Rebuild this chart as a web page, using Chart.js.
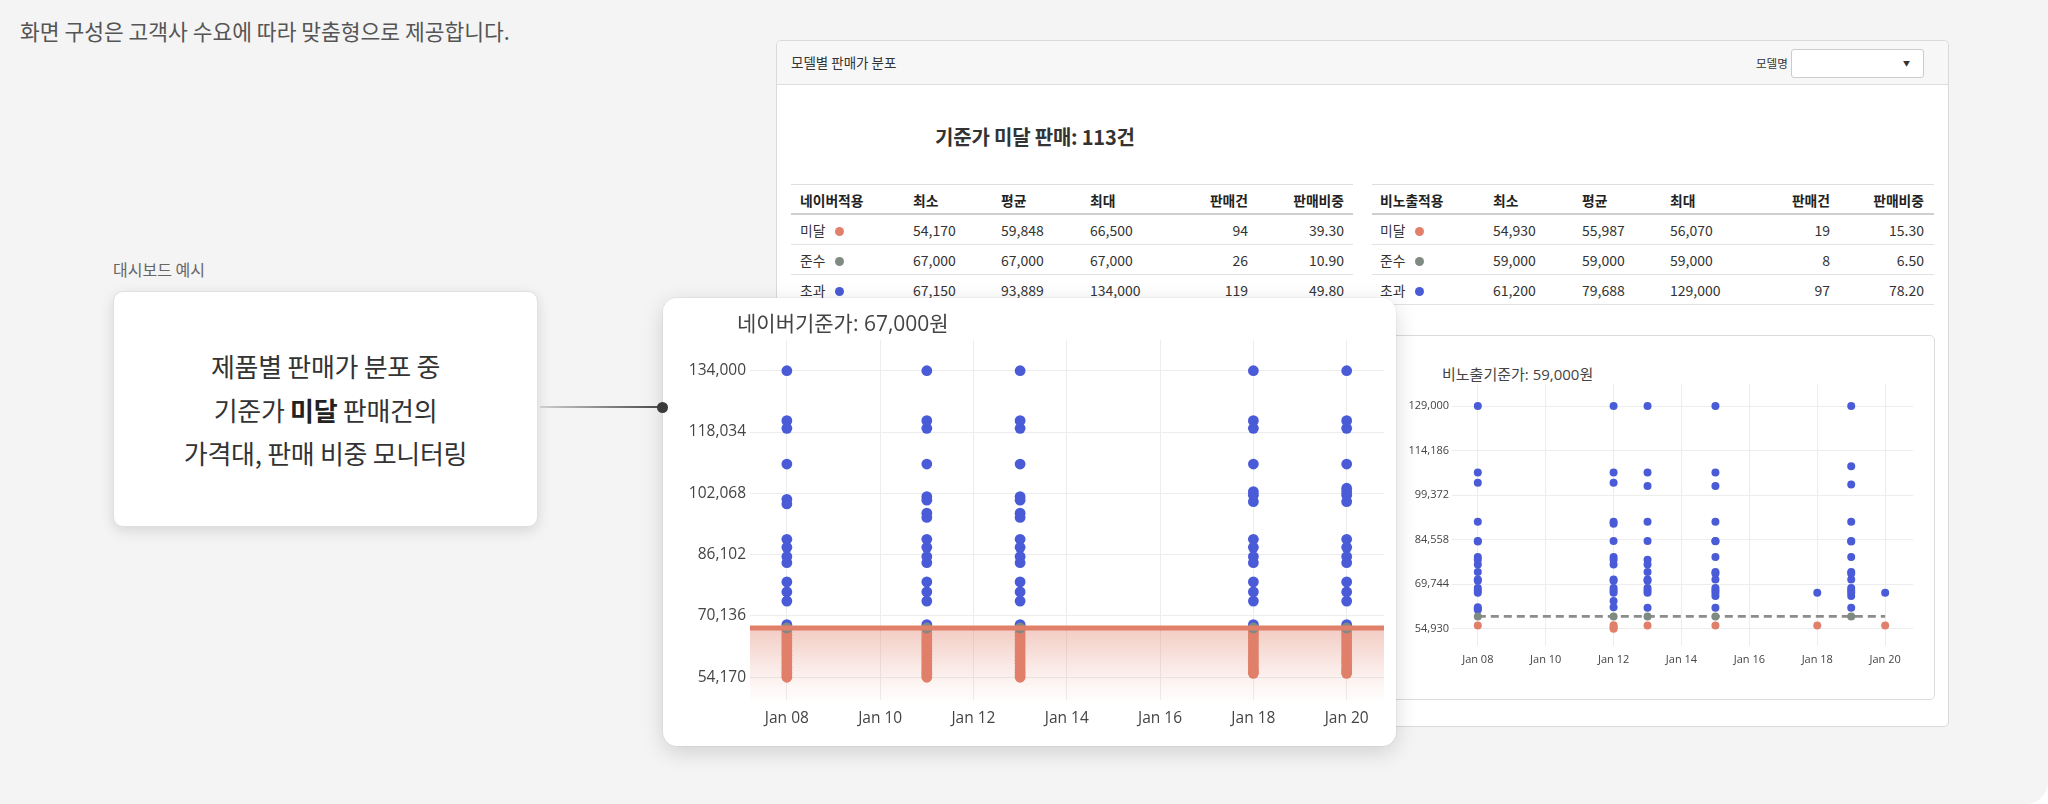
<!DOCTYPE html>
<html>
<head>
<meta charset="utf-8">
<script src="https://cdn.jsdelivr.net/npm/chart.js@4.4.1/dist/chart.umd.min.js"></script>
<style>
html,body{margin:0;padding:0;background:#ffffff;}
body{width:2048px;height:804px;overflow:hidden;font-family:'Noto Sans CJK KR','Noto Sans',sans-serif;position:relative;}
#stage{position:absolute;left:0;top:0;width:2048px;height:804px;background:#f4f4f4;border-radius:0 0 22px 0;overflow:hidden;}
.abs{position:absolute;}
#topnote{left:20px;top:16px;font-size:21.5px;line-height:30px;color:#555;letter-spacing:0px;white-space:nowrap;}
#dashlabel{left:113px;top:257px;font-size:16px;line-height:24px;color:#666;white-space:nowrap;}
#callout{left:113px;top:291px;width:425px;height:236px;background:#fff;border:1px solid #e0e0e0;border-radius:10px;box-sizing:border-box;box-shadow:0 4px 14px rgba(0,0,0,0.12);z-index:3;}
#callout .txt{position:absolute;left:0;top:52px;width:100%;text-align:center;font-size:26px;line-height:43.5px;color:#333;letter-spacing:-0.3px;}
#callout b{font-weight:700;color:#222;}
#conn{left:540px;top:406px;width:120px;height:2px;background:linear-gradient(to right,#cfcfcf,#4a4a4a);z-index:6;}
#connDot{left:657px;top:402px;width:11px;height:11px;border-radius:50%;background:#3b3b3b;z-index:7;}
#panel{left:776px;top:40px;width:1173px;height:687px;background:#fff;border:1px solid #dadada;border-radius:5px;box-sizing:border-box;z-index:1;}
#panelHead{left:0;top:0;width:100%;height:44px;background:#f7f7f7;border-bottom:1px solid #dddddd;border-radius:5px 5px 0 0;box-sizing:border-box;}
#panelTitle{left:14px;top:11px;font-size:13.5px;line-height:20px;color:#333;white-space:nowrap;}
#selLabel{left:979px;top:13px;font-size:11.5px;line-height:18px;color:#333;white-space:nowrap;}
#sel{left:1014px;top:8px;width:133px;height:29px;background:#fff;border:1px solid #cccccc;border-radius:3px;box-sizing:border-box;}
#sel span{position:absolute;right:13px;top:8px;font-size:7px;line-height:10px;color:#333;}
#summary{left:158px;top:83px;font-size:20px;line-height:26px;font-weight:700;color:#333;white-space:nowrap;letter-spacing:-0.2px;}
.tbl{position:absolute;width:562px;}
.row{position:relative;height:30px;box-sizing:border-box;border-bottom:1px solid #e2e2e2;}
.row.head{height:31px;border-top:1px solid #dedede;border-bottom:2px solid #cfcfcf;}
.cell{position:absolute;top:0;line-height:30px;white-space:nowrap;color:#333;font-size:14px;}
.row.head .cell{font-weight:700;font-size:13.8px;color:#222;line-height:30px;}
.lab{font-size:13.8px;}
.dot{display:inline-block;width:9px;height:9px;border-radius:50%;margin-left:10px;vertical-align:0px;}
#backCard{left:596px;top:294px;width:562px;height:365px;background:#fff;border:1px solid #dcdcdc;border-radius:5px;box-sizing:border-box;}
#backTitle{left:68px;top:28px;font-size:15px;line-height:20px;color:#444;white-space:nowrap;font-family:'Open Sans','Noto Sans CJK KR',sans-serif;}
#frontCard{left:663px;top:298px;width:733px;height:448px;background:#fff;border-radius:14px;box-shadow:0 6px 22px rgba(0,0,0,0.15),0 0 0 1px rgba(0,0,0,0.04);z-index:5;}
#frontTitle{left:74px;top:11px;font-size:21px;line-height:28px;color:#444;white-space:nowrap;font-family:'Open Sans','Noto Sans CJK KR',sans-serif;}
canvas{position:absolute;left:0;top:0;}
</style>
</head>
<body>
<div id="stage">
  <div id="topnote" class="abs">화면 구성은 고객사 수요에 따라 맞춤형으로 제공합니다.</div>
  <div id="dashlabel" class="abs">대시보드 예시</div>
  <div id="callout" class="abs"><div class="txt">제품별 판매가 분포 중<br>기준가 <b>미달</b> 판매건의<br>가격대, 판매 비중 모니터링</div></div>
  <div id="conn" class="abs"></div>
  <div id="connDot" class="abs"></div>

  <div id="panel" class="abs">
    <div id="panelHead" class="abs">
      <div id="panelTitle" class="abs">모델별 판매가 분포</div>
      <div id="selLabel" class="abs">모델명</div>
      <div id="sel" class="abs"><span>▼</span></div>
    </div>
    <div id="summary" class="abs">기준가 미달 판매: 113건</div>
    <div id="tblA" class="tbl" style="left:14px;top:143px;"></div>
    <div id="tblB" class="tbl" style="left:595px;top:143px;"></div>
    <div id="backCard" class="abs">
      <div id="backTitle" class="abs">비노출기준가: 59,000원</div>
      <canvas id="backChart" width="560" height="363"></canvas>
    </div>
  </div>

  <div id="frontCard" class="abs">
    <div id="frontTitle" class="abs">네이버기준가: 67,000원</div>
    <canvas id="frontChart" width="733" height="448"></canvas>
  </div>
</div>

<script>
// ---------- table data ----------
const naverHead = ['네이버적용', '최소', '평균', '최대', '판매건', '판매비중'];
const hiddenHead = ['비노출적용', '최소', '평균', '최대', '판매건', '판매비중'];
const groupLabels = ['미달', '준수', '초과'];
const naverMin = [54170, 67000, 67150];
const naverAvg = [59848, 67000, 93889];
const naverMax = [66500, 67000, 134000];
const naverCnt = [94, 26, 119];
const naverShare = ['39.30', '10.90', '49.80'];
const hiddenMin = [54930, 59000, 61200];
const hiddenAvg = [55987, 59000, 79688];
const hiddenMax = [56070, 59000, 129000];
const hiddenCnt = [19, 8, 97];
const hiddenShare = ['15.30', '6.50', '78.20'];

// ---------- chart data ----------
const dayTicks = [8, 10, 12, 14, 16, 18, 20];
const naverStd = 67000;
const naverYTicks = [54170, 70136, 86102, 102068, 118034, 134000];
const naverDates = [8, 11, 13, 18, 20];
const naverOver = [
  [134000, 121000, 119000, 109700, 100500, 99300, 90100, 88000, 85600, 84000, 79000, 76400, 74000, 67900, 67150],
  [134000, 121000, 119000, 109700, 101200, 100300, 96900, 95800, 90100, 88000, 85600, 84000, 79000, 76400, 74000, 67900, 67150],
  [134000, 121000, 119000, 109700, 101200, 100300, 96900, 95800, 90100, 88000, 85600, 84000, 79000, 76400, 74000, 67900, 67150],
  [134000, 121000, 119000, 109700, 102500, 101600, 99900, 90100, 88000, 85600, 84000, 79000, 76400, 74000, 67900, 67150],
  [134000, 121000, 119000, 109700, 103400, 102500, 101600, 99900, 90100, 88000, 85600, 84000, 79000, 76400, 74000, 67900, 67150]
];
const naverBelow = [
  [66500, 65800, 65100, 64300, 63600, 62900, 62100, 61300, 60600, 59900, 59100, 58300, 57600, 56800, 56100, 55400, 54800, 54170],
  [66500, 65700, 64900, 64100, 63300, 62500, 61700, 60900, 60100, 59300, 58500, 57700, 56900, 56200, 55500, 54900, 54170],
  [66500, 65700, 64900, 64100, 63300, 62600, 61800, 61000, 60200, 59400, 58600, 57800, 57000, 56200, 55500, 54800, 54170],
  [66500, 65800, 65000, 64200, 63400, 62600, 61800, 61000, 60200, 59400, 58600, 57800, 57000, 56300, 55700, 55200],
  [66500, 65800, 65000, 64200, 63400, 62600, 61800, 61000, 60200, 59400, 58600, 57800, 57000, 56300, 55700, 55200]
];
const naverEqualDates = [8, 11, 13, 18, 20];

const hiddenStd = 59000;
const hiddenYTicks = [54930, 69744, 84558, 99372, 114186, 129000];
const hiddenDates = [8, 12, 13, 15, 18, 19, 20];
const hiddenOver = [
  [129000, 106900, 103500, 90500, 84100, 83900, 78800, 77900, 76300, 73800, 71300, 70900, 68500, 67600, 66900, 62100, 61600, 61200],
  [129000, 106900, 103500, 90500, 89800, 84100, 78800, 77900, 76300, 71300, 70900, 68500, 67600, 66900, 64100, 62100],
  [129000, 106900, 102400, 90500, 84100, 77900, 76300, 73800, 71300, 70900, 68500, 67600, 66900, 61900],
  [129000, 106900, 102400, 90500, 84100, 84000, 78800, 73800, 73300, 71300, 68500, 67600, 66900, 65800, 61900],
  [66900],
  [129000, 109000, 102900, 90500, 84100, 83900, 78800, 73800, 73300, 71300, 68500, 67600, 66900, 65800, 61900],
  [66900]
];
const hiddenBelow = [[56000], [56070, 55400, 54930], [56000], [56000], [56000], [], [56000]];
const hiddenEqualDates = [8, 12, 13, 15, 19];

const RED = '#e0806b', GRAY = '#7f8a83', BLUE = '#4a5bd8';
const dotColors = [RED, GRAY, BLUE];

// ---------- build tables ----------
function buildTable(el, head, mins, avgs, maxs, cnts, shares, leftCols, rightCols) {
  const fmt = v => v.toLocaleString('en-US');
  let html = '<div class="row head">';
  for (let i = 0; i < 4; i++) html += `<div class="cell" style="left:${leftCols[i]}px">${head[i]}</div>`;
  html += `<div class="cell" style="right:${rightCols[0]}px">${head[4]}</div>`;
  html += `<div class="cell" style="right:${rightCols[1]}px">${head[5]}</div></div>`;
  for (let r = 0; r < 3; r++) {
    html += '<div class="row">';
    html += `<div class="cell lab" style="left:${leftCols[0]}px">${groupLabels[r]}<span class="dot" style="background:${dotColors[r]}"></span></div>`;
    html += `<div class="cell" style="left:${leftCols[1]}px">${fmt(mins[r])}</div>`;
    html += `<div class="cell" style="left:${leftCols[2]}px">${fmt(avgs[r])}</div>`;
    html += `<div class="cell" style="left:${leftCols[3]}px">${fmt(maxs[r])}</div>`;
    html += `<div class="cell" style="right:${rightCols[0]}px">${cnts[r]}</div>`;
    html += `<div class="cell" style="right:${rightCols[1]}px">${shares[r]}</div>`;
    html += '</div>';
  }
  el.innerHTML = html;
}
buildTable(document.getElementById('tblA'), naverHead, naverMin, naverAvg, naverMax, naverCnt, naverShare, [9, 122, 210, 299], [105, 9]);
buildTable(document.getElementById('tblB'), hiddenHead, hiddenMin, hiddenAvg, hiddenMax, hiddenCnt, hiddenShare, [8, 121, 210, 298], [104, 10]);

// ---------- charts ----------
function pts(dates, groups) {
  const out = [];
  dates.forEach((d, i) => groups[i].forEach(v => out.push({ x: d, y: v })));
  return out;
}
const dayLabel = v => 'Jan ' + String(v).padStart(2, '0');
const tickFont = "'Open Sans','Noto Sans',sans-serif";

function axes(cfg) {
  return {
    x: {
      type: 'linear', min: cfg.xMin, max: cfg.xMax,
      afterBuildTicks: s => { s.ticks = dayTicks.map(v => ({ value: v })); },
      afterFit: s => { s.height = cfg.xH; },
      grid: { color: '#ededed', lineWidth: 1, drawTicks: false },
      border: { display: false },
      ticks: { callback: dayLabel, color: '#444', font: { family: tickFont, size: cfg.fs }, padding: cfg.xPad, maxRotation: 0, autoSkip: false }
    },
    y: {
      type: 'linear', min: cfg.yMin, max: cfg.yMax,
      afterBuildTicks: s => { s.ticks = cfg.yTicks.map(v => ({ value: v })); },
      afterFit: s => { s.width = cfg.yW; },
      grid: { color: '#ededed', lineWidth: 1, drawTicks: false },
      border: { display: false },
      ticks: { callback: v => v.toLocaleString('en-US'), color: '#444', font: { family: tickFont, size: cfg.fs }, padding: cfg.yPad, autoSkip: false }
    }
  };
}

const frontX = [7.21, 20.8];
new Chart(document.getElementById('frontChart'), {
  type: 'scatter',
  data: {
    datasets: [
      {
        type: 'line', data: frontX.map(x => ({ x: x, y: naverStd })),
        borderColor: RED, borderWidth: 5, pointRadius: 0, fill: 'start',
        backgroundColor: (ctx) => {
          const ch = ctx.chart, a = ch.chartArea;
          if (!a) return 'rgba(224,128,107,0.2)';
          const y0 = ch.scales.y.getPixelForValue(naverStd);
          const g = ch.ctx.createLinearGradient(0, y0, 0, a.bottom);
          g.addColorStop(0, 'rgba(224,128,107,0.40)');
          g.addColorStop(0.7, 'rgba(224,128,107,0.10)');
          g.addColorStop(1, 'rgba(224,128,107,0.01)');
          return g;
        }
      },
      { data: naverEqualDates.map(d => ({ x: d, y: naverStd })), backgroundColor: GRAY, pointRadius: 5.4, pointBorderWidth: 0 },
      { data: pts(naverDates, naverOver), backgroundColor: BLUE, pointRadius: 5.4, pointBorderWidth: 0 },
      { data: pts(naverDates, naverBelow), backgroundColor: RED, pointRadius: 5.4, pointBorderWidth: 0 }
    ]
  },
  options: {
    responsive: false, animation: false, events: [],
    layout: { padding: { top: 42, right: 12, bottom: 0, left: 0 } },
    plugins: { legend: { display: false }, tooltip: { enabled: false }, filler: { drawTime: 'beforeDatasetsDraw' } },
    scales: axes({ xMin: 7.21, xMax: 20.8, yMin: 48250, yMax: 142000, yTicks: naverYTicks, xH: 46, yW: 87, fs: 15.5, xPad: 9, yPad: 4 })
  }
});

const backX = [8, 20];
new Chart(document.getElementById('backChart'), {
  type: 'scatter',
  data: {
    datasets: [
      { data: hiddenEqualDates.map(d => ({ x: d, y: hiddenStd })), backgroundColor: GRAY, pointRadius: 4, pointBorderWidth: 0 },
      {
        type: 'line', data: backX.map(x => ({ x: x, y: hiddenStd })),
        borderColor: '#8a8d8a', borderWidth: 2.7, borderDash: [8, 5], pointRadius: 0, fill: false
      },
      { data: pts(hiddenDates, hiddenBelow), backgroundColor: RED, pointRadius: 4, pointBorderWidth: 0 },
      { data: pts(hiddenDates, hiddenOver), backgroundColor: BLUE, pointRadius: 4, pointBorderWidth: 0 }
    ]
  },
  options: {
    responsive: false, animation: false, events: [],
    layout: { padding: { top: 48, right: 21, bottom: 0, left: 0 } },
    plugins: { legend: { display: false }, tooltip: { enabled: false } },
    scales: axes({ xMin: 7.24, xMax: 20.82, yMin: 49170, yMax: 136320, yTicks: hiddenYTicks, xH: 53, yW: 78, fs: 11, xPad: 7, yPad: 3 })
  }
});
</script>
</body>
</html>
